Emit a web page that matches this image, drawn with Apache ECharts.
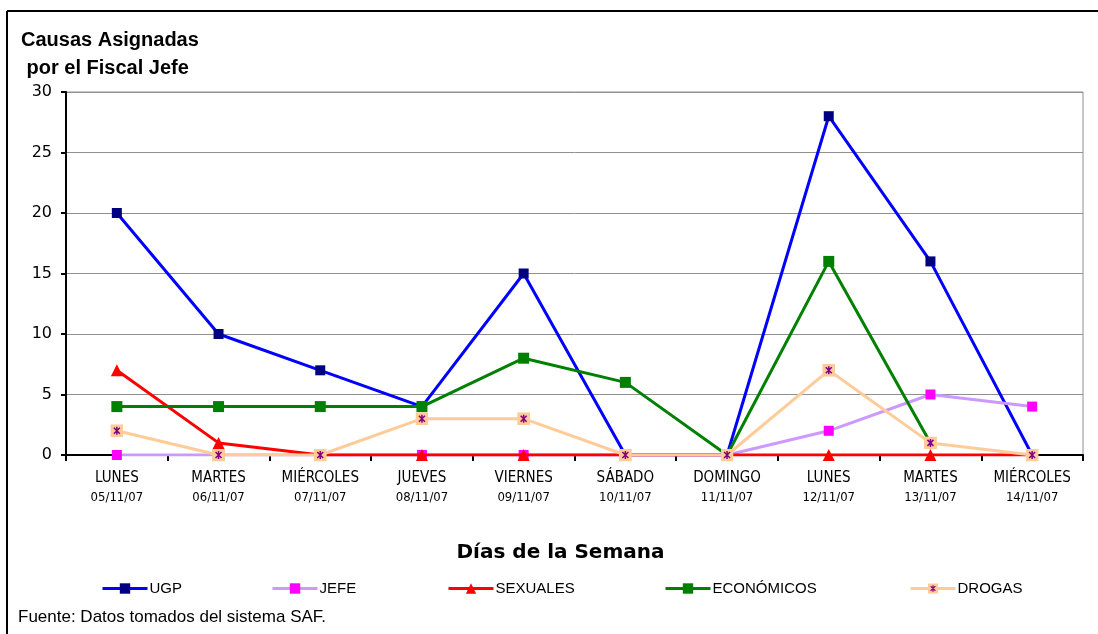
<!DOCTYPE html>
<html><head><meta charset="utf-8">
<script src="https://cdn.jsdelivr.net/npm/echarts@6/dist/echarts.min.js"></script>
<style>html,body{margin:0;padding:0;background:#fff}#c{width:1098px;height:634px}</style>
</head><body><div id="c"></div>
<script>
const dayNames = ['LUNES','MARTES','MIÉRCOLES','JUEVES','VIERNES','SÁBADO','DOMINGO','LUNES','MARTES','MIÉRCOLES'];
const dayDates = ['05/11/07','06/11/07','07/11/07','08/11/07','09/11/07','10/11/07','11/11/07','12/11/07','13/11/07','14/11/07'];
const ugp = [20, 10, 7, 4, 15, 0, 0, 28, 16, 0];
const jefe = [0, 0, 0, 0, 0, 0, 0, 2, 5, 4];
const sexuales = [7, 1, 0, 0, 0, 0, 0, 0, 0, 0];
const economicos = [4, 4, 4, 4, 8, 6, 0, 16, 1, '-'];
const drogas = [2, 0, 0, 3, 3, 0, 0, 7, 1, 0];
const yTicks = [0, 5, 10, 15, 20, 25, 30];

const categories = dayNames.map((n, i) => n + '\n' + dayDates[i]);
const drogasSvg = "<svg xmlns='http://www.w3.org/2000/svg' width='13' height='13'><rect width='13' height='13' fill='#FFCC99'/><path d='M3.5 3.5L9.5 9.5M9.5 3.5L3.5 9.5M6.5 2.5V10.5' stroke='#800080' stroke-width='1.5' fill='none'/></svg>";
const drogasSymbol = 'image://data:image/svg+xml;charset=utf-8,' + encodeURIComponent(drogasSvg);

const chart = echarts.init(document.getElementById('c'), null, {renderer: 'canvas'});
const legendBase = {top: 576, itemWidth: 45, itemHeight: 13, itemGap: 0,
  lineStyle: {width: 3},
  textStyle: {fontFamily: 'Liberation Sans', fontSize: 15, color: '#000', padding: [0,0,0,-3]}};
function lg(name, left) { return Object.assign({}, legendBase, {left: left, data: [name]}); }

chart.setOption({
  animation: false,
  backgroundColor: '#fff',
  title: {
    text: 'Causas Asignadas\n por el Fiscal Jefe',
    left: 16, top: 21,
    textStyle: {fontFamily: 'Liberation Sans', fontSize: 20, fontWeight: 'bold', color: '#000', lineHeight: 28}
  },
  legend: [lg('UGP', 96), lg('JEFE', 266), lg('SEXUALES', 442), lg('ECONÓMICOS', 659), lg('DROGAS', 904)],
  grid: {left: 66, right: 15, top: 92, bottom: 179, show: true, borderColor: '#909090', borderWidth: 1},
  xAxis: {
    type: 'category', data: categories, boundaryGap: true,
    name: 'Días de la Semana', nameLocation: 'middle', nameGap: 88,
    nameTextStyle: {fontFamily: 'DejaVu Sans', fontSize: 20, fontWeight: 'bold', color: '#000', padding: [0, 28, 0, 0]},
    axisLine: {lineStyle: {color: '#000', width: 2}},
    axisTick: {show: true, alignWithLabel: false, length: 6, lineStyle: {color: '#000', width: 2}},
    axisLabel: {
      interval: 0, margin: 13, color: '#000',
      formatter: function (v) { const p = v.split('\n'); return '{a|' + p[0] + '}\n{b|' + p[1] + '}'; },
      rich: {
        a: {fontFamily: 'DejaVu Sans Condensed', fontSize: 15, lineHeight: 20, color: '#000'},
        b: {fontFamily: 'DejaVu Sans Condensed', fontSize: 13, lineHeight: 19, color: '#000'}
      }
    },
    splitLine: {show: false}
  },
  yAxis: {
    type: 'value', min: yTicks[0], max: yTicks[yTicks.length - 1], interval: 5,
    axisLine: {show: true, lineStyle: {color: '#000', width: 2}},
    axisTick: {show: true, length: 5, lineStyle: {color: '#000', width: 2}},
    axisLabel: {fontFamily: 'DejaVu Sans', fontSize: 16, color: '#000', margin: 14},
    splitLine: {show: true, lineStyle: {color: '#909090', width: 1}}
  },
  series: [
    {name: 'UGP', type: 'line', data: ugp, z: 2, symbol: 'rect', symbolSize: 10,
      lineStyle: {color: '#0000FF', width: 3}, itemStyle: {color: '#000080'}},
    {name: 'JEFE', type: 'line', data: jefe, z: 3, symbol: 'rect', symbolSize: 10,
      lineStyle: {color: '#CC99FF', width: 3}, itemStyle: {color: '#FF00FF'}},
    {name: 'SEXUALES', type: 'line', data: sexuales, z: 4, symbol: 'triangle', symbolSize: 12,
      lineStyle: {color: '#FF0000', width: 3}, itemStyle: {color: '#FF0000'}},
    {name: 'ECONÓMICOS', type: 'line', data: economicos, z: 5, symbol: 'rect', symbolSize: 11,
      lineStyle: {color: '#008000', width: 3}, itemStyle: {color: '#008000'}},
    {name: 'DROGAS', type: 'line', data: drogas, z: 6, symbol: drogasSymbol, symbolSize: 13,
      lineStyle: {color: '#FFCC99', width: 3}, itemStyle: {color: '#FFCC99'}}
  ],
  graphic: [
    {type: 'line', shape: {x1: 7, y1: 11, x2: 1098, y2: 11}, style: {stroke: '#000', lineWidth: 2}},
    {type: 'line', shape: {x1: 7, y1: 11, x2: 7, y2: 634}, style: {stroke: '#000', lineWidth: 2}},
    {type: 'text', left: 18, top: 609, style: {text: 'Fuente: Datos tomados del sistema SAF.', fontFamily: 'Liberation Sans', fontSize: 17, fill: '#000'}}
  ]
});
</script></body></html>
